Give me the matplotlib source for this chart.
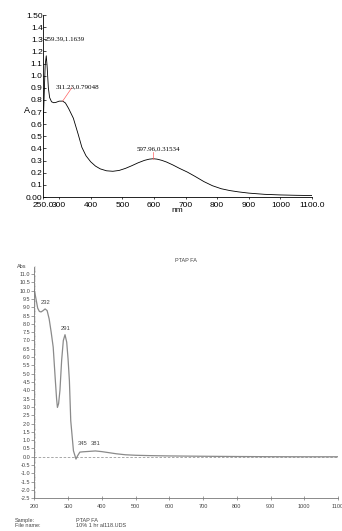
import matplotlib
matplotlib.use("Agg")
import matplotlib.pyplot as plt
from matplotlib.ticker import MultipleLocator, FixedLocator

# top spectrum (nm, A)
wl_top = [250, 253, 256, 259.39, 262, 266, 270, 276, 283, 290, 300, 311.23,
          320, 330, 345, 360, 372, 385, 400, 415, 430, 450, 470, 490, 510,
          530, 550, 570, 585, 597.96, 610, 625, 640, 660, 680, 706, 730, 758,
          785, 813, 840, 868, 900, 950, 1000, 1050, 1100]
abs_top = [0.62, 0.86, 1.09, 1.1639, 1.08, 0.9, 0.82, 0.785, 0.777, 0.78,
           0.79, 0.79048, 0.775, 0.73, 0.65, 0.52, 0.41, 0.34, 0.29, 0.255,
           0.232, 0.216, 0.212, 0.219, 0.236, 0.258, 0.282, 0.302, 0.312,
           0.31534, 0.312, 0.302, 0.288, 0.264, 0.237, 0.205, 0.17, 0.127,
           0.093, 0.068, 0.053, 0.042, 0.032, 0.022, 0.017, 0.014, 0.012]
peaks_top = [(259.39, 1.1639), (311.23, 0.79048), (597.96, 0.31534)]

# bottom spectrum (nm, Abs)
wl_bot = [200, 205, 210, 215, 220, 226, 232, 238, 244, 250, 256, 262, 266,
          268.5, 272, 276, 281, 286, 291, 296, 300, 304, 308, 316, 323.5,
          328, 335, 345, 360, 381, 400, 420, 443, 470, 500, 540, 600, 700,
          800, 900, 1000, 1100]
abs_bot = [10.05, 9.5, 8.95, 8.75, 8.72, 8.8, 8.9, 8.8, 8.3, 7.5, 6.6, 4.7,
           3.5, 2.97, 3.2, 4.0, 5.8, 7.0, 7.35, 6.9, 5.9, 4.58, 2.17, 0.36,
           -0.14, 0.05, 0.28, 0.3, 0.32, 0.35, 0.31, 0.25, 0.18, 0.12, 0.09,
           0.07, 0.05, 0.03, 0.015, 0.005, 0.0, 0.0]
peak_labels_bot = [("232", 234, 9.3), ("291", 293, 7.7), ("345", 344, 0.8), ("381", 383, 0.8)]
xticks_bot = list(range(200, 1101, 100))
yticks_bot = [v / 2 for v in range(-5, 23)]

sans = "Liberation Sans"
serif = "Liberation Serif"

fig = plt.figure(figsize=(3.42, 5.31), dpi=100)

# ---- top panel ----
ax = fig.add_axes([0.1266, 0.629, 0.7857, 0.3427])
ax.plot(wl_top, abs_top, color="black", lw=0.6)
ax.set_xlim(250, 1100)
ax.set_ylim(0, 1.5)
for s in ["top", "right"]:
    ax.spines[s].set_visible(False)
for s in ["left", "bottom"]:
    ax.spines[s].set_linewidth(0.6)

yt = [i / 10 for i in range(16)]
ax.yaxis.set_major_locator(FixedLocator(yt))
ax.set_yticklabels(["0.00"] + ["%.1f" % v for v in yt[1:-1]] + ["1.50"],
                   fontsize=6, family=sans)
xt = [250, 300, 400, 500, 600, 700, 800, 900, 1000, 1100]
ax.xaxis.set_major_locator(FixedLocator(xt))
ax.set_xticklabels(["250.0", "300", "400", "500", "600", "700", "800", "900",
                    "1000", "1100.0"], fontsize=6, family=sans)
ax.tick_params(axis="y", direction="in", length=2, width=0.5, pad=0.5)
ax.tick_params(axis="x", direction="out", length=1.5, width=0.5, pad=2)
ax.text(0.5, -0.055, "nm", transform=ax.transAxes, ha="center", va="top",
        fontsize=6, family=sans)
ax.text(-0.061, 0.473, "A", transform=ax.transAxes, ha="center", va="center",
        fontsize=6.5, family=sans)

# peak annotations
ax.text(255, 1.30, "%.2f,%.4f" % peaks_top[0], fontsize=5, family=serif,
        ha="left", va="center")
ax.plot([peaks_top[1][0], 340], [peaks_top[1][1], 0.9], color="#ff6060", lw=0.5)
ax.text(290, 0.907, "%.2f,%.5f" % peaks_top[1], fontsize=5, family=serif,
        ha="left", va="center")
ax.plot([peaks_top[2][0]] * 2, [peaks_top[2][1], 0.375], color="#ff6060", lw=0.5)
ax.text(546, 0.396, "%.2f,%.5f" % peaks_top[2], fontsize=5, family=serif,
        ha="left", va="center")

# ---- bottom panel ----
gray = "#8a8a8a"
bx = fig.add_axes([0.1003, 0.0616, 0.888, 0.4348])
bx.axhline(0, color="#9a9a9a", lw=0.6, ls=(0, (3, 2)), zorder=1)
bx.plot(wl_bot, abs_bot, color=gray, lw=0.9, zorder=2)
bx.set_xlim(200, 1100)
bx.set_ylim(-2.5, 11.4)
for s in ["top", "right"]:
    bx.spines[s].set_visible(False)
for s in ["left", "bottom"]:
    bx.spines[s].set_color("#777777")
    bx.spines[s].set_linewidth(0.6)
bx.yaxis.set_major_locator(FixedLocator(yticks_bot))
bx.yaxis.set_minor_locator(MultipleLocator(0.1))
bx.xaxis.set_major_locator(FixedLocator(xticks_bot))
bx.set_yticklabels(["%.1f" % v for v in yticks_bot], fontsize=4,
                   family=sans, color="#444444")
bx.set_xticklabels([str(v) for v in xticks_bot], fontsize=4,
                   family=sans, color="#444444")
bx.tick_params(axis="y", which="major", direction="out", length=2,
               width=0.5, color="#777777", pad=0.8)
bx.tick_params(axis="y", which="minor", direction="in", length=1.5,
               width=0.3, color="#888888")
bx.tick_params(axis="x", which="major", direction="inout", length=2.5,
               width=0.5, color="#777777", pad=3)
bx.text(-0.04, 1.005, "Abs", transform=bx.transAxes, ha="center",
        va="center", fontsize=4, family=sans, color="#444444")
bx.set_title("PTAP FA", fontsize=4, family=sans, color="#444444", pad=4)
for txt, x, y in peak_labels_bot:
    bx.text(x, y, txt, fontsize=4.2, family=sans, color="#444444",
            ha="center", va="center")

# footer
fig.text(15 / 342, 1 - 520.5 / 531, "Sample:", fontsize=4, family=sans,
         color="#444444", va="center")
fig.text(15 / 342, 1 - 525.7 / 531, "File name:", fontsize=4, family=sans,
         color="#444444", va="center")
fig.text(76 / 342, 1 - 520.5 / 531, "PTAP FA", fontsize=4, family=sans,
         color="#444444", va="center")
fig.text(76 / 342, 1 - 525.7 / 531, "10% 1 hr al118.UDS", fontsize=4,
         family=sans, color="#444444", va="center")

fig.savefig("out.png", dpi=100)
